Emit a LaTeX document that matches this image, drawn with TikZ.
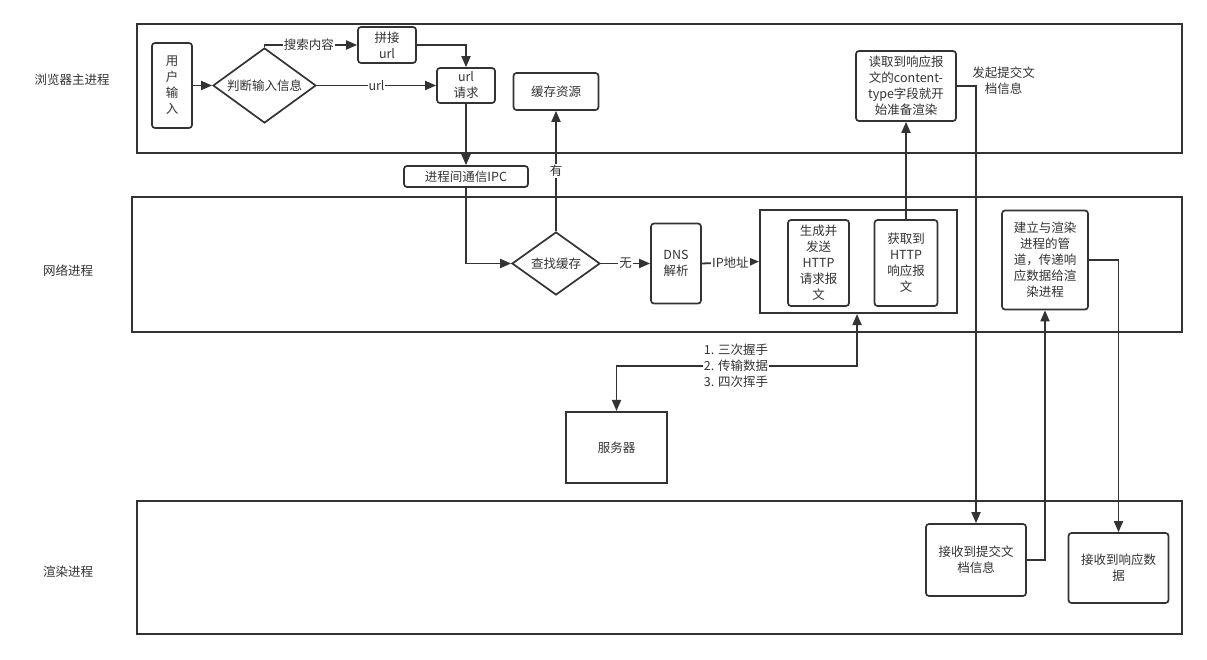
\documentclass[tikz,border=0pt]{standalone}
\usepackage{fontspec}
\setmainfont{Noto Sans CJK SC}
\usetikzlibrary{arrows.meta,shapes.geometric}
\definecolor{lc}{HTML}{333333}
\begin{document}
\begin{tikzpicture}[x=1pt,y=-1pt,
  every node/.style={text=lc},
  fs/.style={font=\fontsize{12.5}{16}\selectfont},
  lane/.style={draw=lc, line width=2.2pt},
  box/.style={fs, draw=lc, line width=1.7pt, rounded corners=3pt, align=center, inner sep=0pt},
  sqbox/.style={fs, draw=lc, line width=2.1pt, align=center, inner sep=0pt},
  dia/.style={fs, diamond, draw=lc, line width=1.7pt, aspect=1.4, inner sep=0pt},
  tip/.tip={Triangle[length=11pt,width=9pt]},
  conn/.style={draw=lc, line width=1.8pt, -tip},
  lbl/.style={fs, fill=white, inner sep=1pt},
  title/.style={fs}]
\useasboundingbox (0,0) rectangle (1207,660);
\fill[white] (0,0) rectangle (1207,660);

% lanes
\draw[lane] (137,24) rectangle (1182,153);
\draw[lane] (132,197) rectangle (1182,332);
\draw[lane] (137,501) rectangle (1182,634);
\node[title] (tB) at (72,80) {浏览器主进程};
\node[title] (tN) at (68,271) {网络进程};
\node[title] (tR) at (68,572) {渲染进程};

% browser process
\node[box, minimum width=40, minimum height=85] (user) at (172,85.5) {用\\户\\输\\入};
\node[dia, minimum width=103, minimum height=75] (judge) at (264.5,85.5) {判断输入信息};
\node[box, minimum width=58, minimum height=36] (pinjie) at (387,45) {拼接\\url};
\node[box, minimum width=58, minimum height=35] (urlreq) at (466,85.5) {url\\请求};
\node[box, minimum width=85, minimum height=37] (res) at (556,91.5) {缓存资源};
\node[box, minimum width=124, minimum height=21] (ipc) at (466,176.5) {进程间通信IPC};
\node[box, minimum width=100, minimum height=70] (read) at (906,86) {读取到响应报\\文的content-\\type字段就开\\始准备渲染};
\node[fs, align=center] (submit) at (1003.5,81) {发起提交文\\档信息};

% network process
\node[dia, minimum width=88, minimum height=63] (cache) at (556,263.5) {查找缓存};
\node[box, minimum width=50, minimum height=80] (dns) at (676,263.5) {DNS\\解析};
\node[sqbox, minimum width=197, minimum height=103] (big) at (858.5,261.5) {};
\node[box, minimum width=61, minimum height=86] (gen) at (818.5,263) {生成并\\发送\\HTTP\\请求报\\文};
\node[box, minimum width=63, minimum height=86] (fetch) at (906,263) {获取到\\HTTP\\响应报\\文};
\node[box, minimum width=86, minimum height=99] (build) at (1045,260) {建立与渲染\\进程的管\\道，传递响\\应数据给渲\\染进程};

% server
\node[sqbox, minimum width=101, minimum height=71] (server) at (616.5,447.5) {服务器};
\coordinate (hs) at (857,366);

% render process
\node[box, minimum width=100, minimum height=72] (recvsub) at (976,560) {接收到提交文\\档信息};
\node[box, minimum width=100, minimum height=70] (recvresp) at (1118.5,568) {接收到响应数\\据};

% connectors
\draw[conn] (user.east) -- (judge.west);
\draw[conn] (judge.north) |- node[lbl, pos=0.74] {搜索内容} (pinjie.west);
\draw[conn] (pinjie.east) -| (urlreq.north);
\draw[conn] (judge.east) -- node[lbl] {url} (urlreq.west);
\draw[conn] (urlreq.south) -- (ipc.north);
\draw[conn] (ipc.south) |- (cache.west);
\draw[conn] (cache.north) -- node[lbl] {有} (res.south);
\draw[conn] (cache.east) -- node[lbl] {无} (dns.west);
\draw[conn] (dns.east) -- node[lbl] {IP地址} (big.west);
\draw[conn] (fetch.north) -- (fetch.north |- read.south);
\draw[conn] (read.east) -| (recvsub.north);
\draw[conn] (build.east) -| (recvresp.north);
\draw[conn] (recvsub.east) -| (build.south);
\draw[conn, tip-tip] (server.north) |- (hs) -- (hs |- big.south);
\node[lbl, align=left] (hslbl) at (736,366) {1. 三次握手\\2. 传输数据\\3. 四次挥手};
\end{tikzpicture}
\end{document}
